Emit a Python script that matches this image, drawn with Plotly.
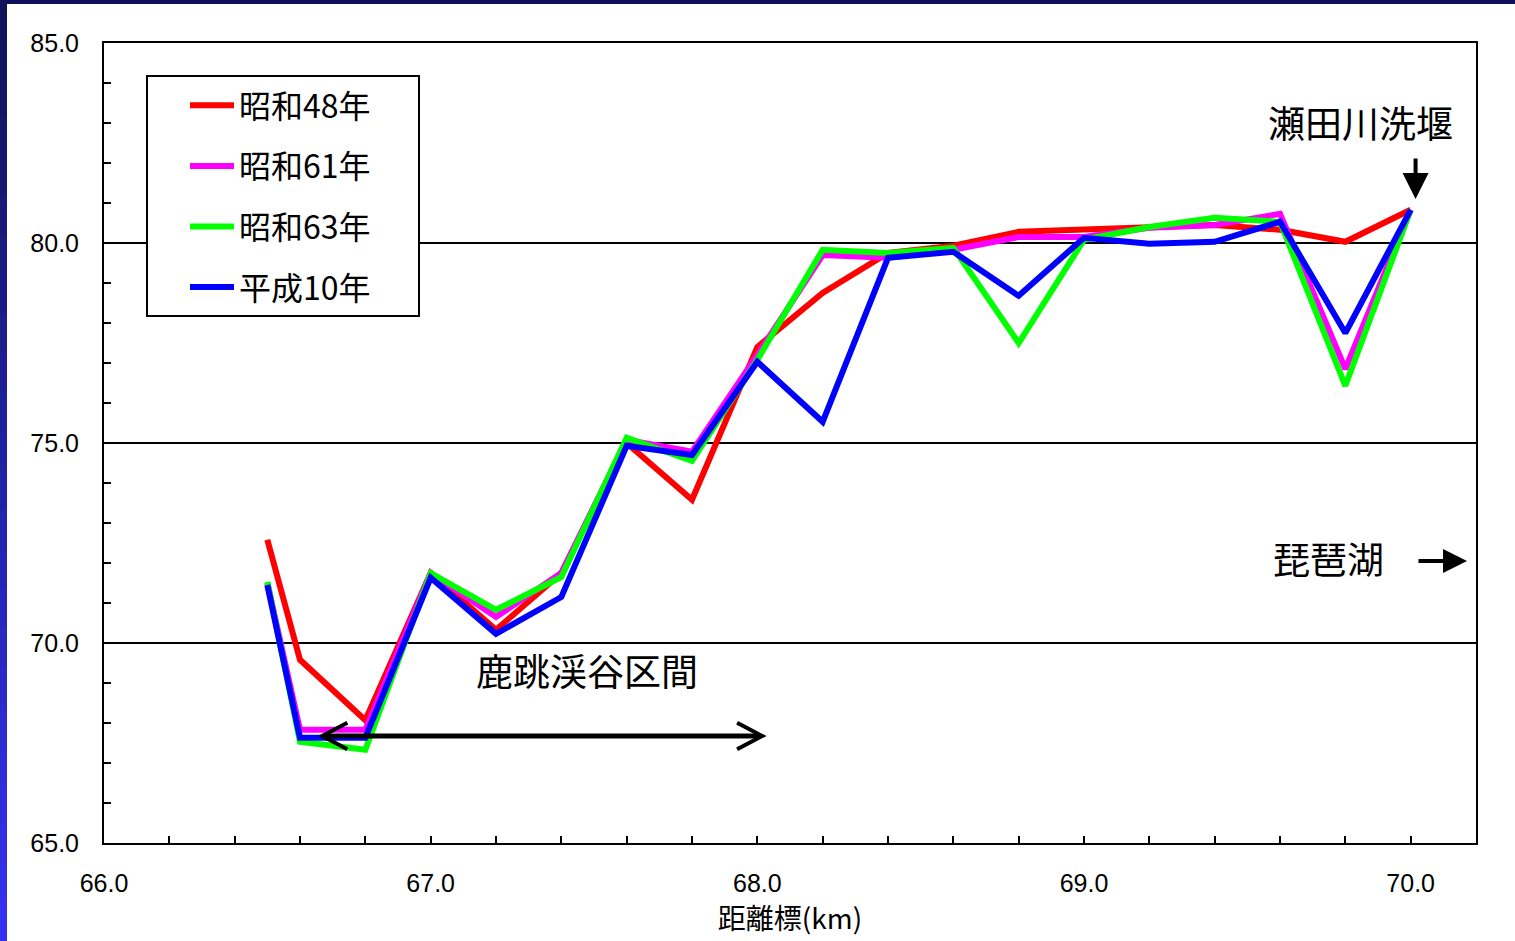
import plotly.graph_objects as go

# ---- data ----
distance_km = [66.5, 66.6, 66.8, 67.0, 67.2, 67.4, 67.6, 67.8, 68.0, 68.2,
               68.4, 68.6, 68.8, 69.0, 69.2, 69.4, 69.6, 69.8, 70.0]
s48 = [72.58, 69.58, 68.07, 71.75, 70.33, 71.75, 75.00, 73.58, 77.40, 78.75,
       79.75, 79.93, 80.28, 80.33, 80.38, 80.45, 80.33, 80.03, 80.83]
s61 = [71.50, 67.83, 67.83, 71.75, 70.65, 71.75, 75.08, 74.78, 77.20, 79.70,
       79.63, 79.83, 80.15, 80.15, 80.38, 80.45, 80.73, 76.85, 80.83]
s63 = [71.53, 67.53, 67.33, 71.75, 70.83, 71.65, 75.13, 74.55, 77.08, 79.83,
       79.75, 79.88, 77.50, 80.08, 80.40, 80.63, 80.53, 76.43, 80.83]
h10 = [71.45, 67.63, 67.63, 71.63, 70.23, 71.15, 74.93, 74.70, 77.03, 75.53,
       79.63, 79.78, 78.68, 80.13, 79.98, 80.03, 80.53, 77.75, 80.83]

series_names = ["昭和48年", "昭和61年", "昭和63年", "平成10年"]
series_values = [s48, s61, s63, h10]
series_colors = ["#ff0000", "#ff00ff", "#00ff00", "#0000ff"]

y_ticks = [65, 70, 75, 80, 85]
x_ticks = [66, 67, 68, 69, 70]

CJK = "Noto Sans CJK JP"
NUM = "Liberation Sans, Arial, sans-serif"

fig = go.Figure()
for name, vals, col in zip(series_names, series_values, series_colors):
    fig.add_trace(go.Scatter(
        x=distance_km, y=vals, mode="lines", name=name, legendgroup=name,
        line=dict(color=col, width=6),
    ))

W, H = 1515, 941
L, R, T, B = 104, 39, 43, 98
pw, ph = W - L - R, H - T - B


def px(x):
    return (x - L) / pw


def py(y):
    return (H - B - y) / ph


shapes = []
# top border
shapes.append(dict(type="rect", xref="paper", yref="paper",
                   x0=px(0), x1=px(W), y0=py(4), y1=py(-2),
                   fillcolor="#10105a", line=dict(width=0), layer="above"))
# left border gradient
n = 24
for i in range(n):
    t = i / (n - 1)
    r = int(18 + (52 - 18) * t)
    g = int(18 + (50 - 18) * t)
    b = int(88 + (240 - 88) * t)
    y0 = H * i / n
    y1 = H * (i + 1) / n + 1
    shapes.append(dict(type="rect", xref="paper", yref="paper",
                       x0=px(-1), x1=px(7), y0=py(y1), y1=py(y0),
                       fillcolor=f"rgb({r},{g},{b})", line=dict(width=0),
                       layer="above"))

# legend frame (white box with black border)
shapes.append(dict(type="rect", xref="paper", yref="paper",
                   x0=px(147), x1=px(419), y0=py(316), y1=py(76),
                   fillcolor="white", line=dict(color="black", width=2),
                   layer="above"))

# double-headed arrow for the gorge section
xl, xr, ya = 66.668, 68.015, 67.675
dx, dy = 0.077, 0.33
shapes.append(dict(type="line", xref="x", yref="y", x0=xl + 0.005, x1=xr - 0.005,
                   y0=ya, y1=ya, line=dict(color="black", width=5), layer="above"))
shapes.append(dict(type="path", xref="x", yref="y",
                   path=f"M{xl + dx},{ya + dy} L{xl},{ya} L{xl + dx},{ya - dy}",
                   line=dict(color="black", width=4), layer="above"))
shapes.append(dict(type="path", xref="x", yref="y",
                   path=f"M{xr - dx},{ya + dy} L{xr},{ya} L{xr - dx},{ya - dy}",
                   line=dict(color="black", width=4), layer="above"))

txt_font = dict(family=CJK, size=37, color="black")
annotations = [
    dict(text="瀬田川洗堰", xref="paper", yref="paper", x=px(1360), y=py(122),
         xanchor="center", yanchor="middle", showarrow=False, font=txt_font),
    dict(text="", xref="x", yref="y", x=70.015, y=81.1, ax=0, ay=-42,
         showarrow=True, arrowhead=2, arrowsize=1.3, arrowwidth=4,
         arrowcolor="black"),
    dict(text="琵琶湖", xref="paper", yref="paper", x=px(1328), y=py(558),
         xanchor="center", yanchor="middle", showarrow=False, font=txt_font),
    dict(text="", xref="paper", yref="paper", x=px(1467), y=py(561),
         ax=-50, ay=0, showarrow=True, arrowhead=2, arrowsize=1.2,
         arrowwidth=4, arrowcolor="black"),
    dict(text="鹿跳渓谷区間", xref="paper", yref="paper", x=px(587), y=py(670),
         xanchor="center", yanchor="middle", showarrow=False, font=txt_font),
]

fig.update_layout(
    width=W, height=H,
    margin=dict(l=L, r=R, t=T, b=B, pad=0),
    paper_bgcolor="white", plot_bgcolor="white",
    showlegend=True,
    legend=dict(
        x=px(185), y=py(78), xanchor="left", yanchor="top",
        bgcolor="rgba(0,0,0,0)", borderwidth=0,
        font=dict(family=CJK, size=32, color="black"),
        tracegroupgap=16, traceorder="grouped", itemwidth=44,
    ),
    shapes=shapes,
    annotations=annotations,
)

fig.update_xaxes(
    range=[66, 70.2], tickvals=x_ticks, ticktext=[f"{v:.1f}" for v in x_ticks],
    showgrid=False, zeroline=False,
    showline=True, linecolor="black", linewidth=2, mirror=True,
    ticks="inside", ticklen=7, tickwidth=2, tickcolor="black",
    minor=dict(dtick=0.2, tick0=66, ticks="inside", ticklen=7, tickwidth=2,
               tickcolor="black", showgrid=False),
    tickfont=dict(family=NUM, size=25, color="black"),
    ticklabelstandoff=17,
    title=dict(text="距離標(km)", font=dict(family=CJK, size=28, color="black"),
               standoff=10),
)
fig.update_yaxes(
    range=[65, 85], tickvals=y_ticks, ticktext=[f"{v:.1f}" for v in y_ticks],
    showgrid=True, gridcolor="black", gridwidth=2, zeroline=False,
    showline=True, linecolor="black", linewidth=2, mirror=True,
    ticks="inside", ticklen=7, tickwidth=2, tickcolor="black",
    minor=dict(dtick=1, tick0=65, ticks="inside", ticklen=7, tickwidth=2,
               tickcolor="black", showgrid=False),
    tickfont=dict(family=NUM, size=25, color="black"),
    ticklabelstandoff=18,
)

fig.write_html("out.html", config={"displayModeBar": False},
               post_script="document.body.style.margin='0';"
                           "document.body.style.overflow='hidden';")
